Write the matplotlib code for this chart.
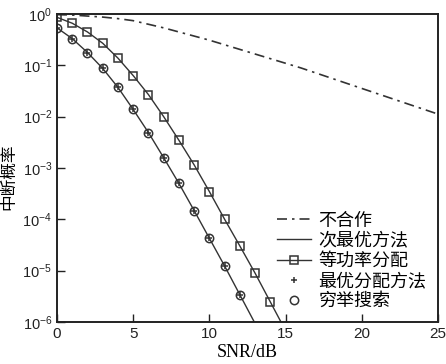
import numpy as np
import matplotlib.pyplot as plt

plt.rcParams['font.family'] = ['Liberation Sans', 'Noto Sans CJK SC']
plt.rcParams['mathtext.fontset'] = 'custom'
plt.rcParams['mathtext.rm'] = 'Liberation Sans'
plt.rcParams['mathtext.it'] = 'Liberation Sans'

# outage probability, stored as log10 values
snr_nc = list(range(0, 26))
log_nc = [-0.01, -0.02, -0.04, -0.06, -0.09, -0.13, -0.20, -0.27, -0.35, -0.43,
          -0.51, -0.60, -0.69, -0.78, -0.87, -0.96, -1.05, -1.15, -1.25, -1.35,
          -1.45, -1.55, -1.65, -1.75, -1.85, -1.95]

snr_opt = list(range(0, 14))
log_opt = [-0.27, -0.48, -0.75, -1.06, -1.43, -1.86, -2.31, -2.80, -3.30, -3.83,
           -4.37, -4.91, -5.47, -6.03]

snr_eq = list(range(0, 16))
log_eq = [-0.065, -0.18, -0.35, -0.57, -0.86, -1.20, -1.57, -2.00, -2.46, -2.94,
          -3.46, -4.00, -4.52, -5.05, -5.61, -6.17]

p_nc = 10 ** np.array(log_nc)
p_opt = 10 ** np.array(log_opt)
p_eq = 10 ** np.array(log_eq)

fig = plt.figure(figsize=(4.46, 3.64), dpi=100)
ax = fig.add_axes([57 / 446, 1 - 322 / 364, 381 / 446, 308 / 364])

c = '#333333'
ax.semilogy(snr_nc, p_nc, color=c, lw=1.2, ls=(0, (6, 3, 1.5, 3)), label='不合作')
ax.semilogy(snr_opt, p_opt, color=c, lw=1.0, label='次最优方法')
ax.semilogy(snr_eq, p_eq, color=c, lw=1.0, marker='s', ms=5.5, mfc='none', mew=1.1,
            markevery=list(range(0, 15)), label='等功率分配')
ax.semilogy(snr_opt[:13], p_opt[:13], ls='none', marker='+', ms=5, mew=1.1, color=c,
            label='最优分配方法')
ax.semilogy(snr_opt[:13], p_opt[:13], ls='none', marker='o', ms=6, mfc='none', mew=1.1,
            color=c, label='穷举搜索')

ax.set_xlim(0, 25)
ax.set_ylim(1e-6, 1)
ax.set_xticks([0, 5, 10, 15, 20, 25])
ax.set_yticks([10.0 ** k for k in range(-6, 1)])
ax.minorticks_off()
ax.tick_params(direction='in', length=6, width=1.0, labelsize=10.5, colors='#222222',
               top=False, right=False)
ax.tick_params(axis='x', labelsize=11)
for s in ax.spines.values():
    s.set_linewidth(1.4)
    s.set_color('#222222')

ax.set_xlabel('SNR/dB', family='Liberation Serif', fontsize=13, labelpad=2)
ax.set_ylabel('中断概率', family=['Noto Sans CJK SC'], fontsize=12)
ax.yaxis.set_label_coords(-0.105, 0.47)

ax.legend(loc='lower right', frameon=False, handlelength=1.9,
          labelspacing=0.12, handletextpad=0.4, borderaxespad=0.25,
          prop={'family': ['Noto Sans CJK SC'], 'size': 13})

plt.savefig('out.png', dpi=100)
